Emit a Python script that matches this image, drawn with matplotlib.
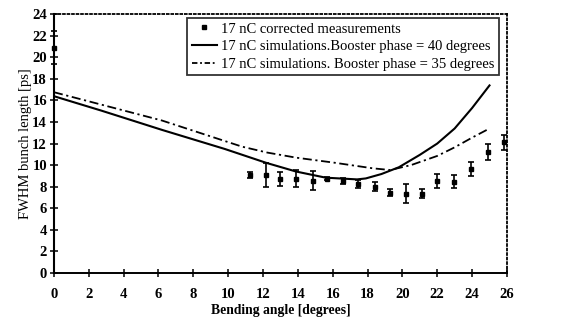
import matplotlib.pyplot as plt
from matplotlib.lines import Line2D
import numpy as np

# measured points (corrected measurements, 17 nC)
meas_x = [0.0, 11.25, 12.15, 13.0, 13.9, 14.85, 15.7, 16.6, 17.45, 18.4, 19.3, 20.2, 21.1, 22.0, 22.95, 23.95, 24.9, 25.85]
meas_y = [20.9, 9.1, 9.1, 8.7, 8.75, 8.55, 8.75, 8.5, 8.25, 8.0, 7.45, 7.35, 7.35, 8.5, 8.45, 9.65, 11.2, 12.1]
meas_err = [1.55, 0.3, 1.1, 0.65, 0.75, 0.9, 0.15, 0.3, 0.4, 0.45, 0.35, 0.85, 0.4, 0.65, 0.6, 0.65, 0.75, 0.7]

# simulation, booster phase 40 deg
sim40_x = [0, 2.7, 6.2, 9.8, 12.2, 13.9, 15.6, 17.4, 17.9, 18.8, 19.8, 21.0, 22.0, 23.0, 24.0, 25.0]
sim40_y = [16.4, 15.07, 13.27, 11.5, 10.2, 9.4, 8.83, 8.67, 8.76, 9.17, 9.8, 10.95, 12.0, 13.4, 15.3, 17.4]

# simulation, booster phase 35 deg
sim35_x = [0, 6.2, 10.8, 12.25, 13.9, 16.1, 18.3, 19.3, 20.5, 22.0, 23.0, 24.0, 25.0]
sim35_y = [16.77, 14.14, 11.71, 11.16, 10.69, 10.22, 9.7, 9.54, 10.0, 10.85, 11.65, 12.55, 13.4]

labels = ['17 nC corrected measurements',
          '17 nC simulations.Booster phase = 40 degrees',
          '17 nC simulations. Booster phase = 35 degrees']

xticks = np.arange(0, 27, 2)
yticks = np.arange(0, 25, 2)

plt.rcParams['font.family'] = ['Liberation Serif', 'DejaVu Serif']

fig = plt.figure(figsize=(5.62, 3.27), dpi=100)
ax = fig.add_axes([0.096, 0.166, 0.806, 0.790])

ax.errorbar(meas_x, meas_y, yerr=meas_err, fmt='s', color='black', ms=3.5,
            elinewidth=1.2, capsize=2.5, capthick=1.2, clip_on=False, zorder=3)
ax.plot(sim40_x, sim40_y, '-', color='black', lw=1.5)
ax.plot(sim35_x, sim35_y, color='black', lw=1.3, dashes=[5, 2, 1.2, 2])

ax.set_xlim(0, 26)
ax.set_ylim(0, 24)
ax.set_xticks(xticks)
ax.set_yticks(yticks)
ax.tick_params(direction='inout', length=6, width=1.1, labelsize=10.5)
for lbl in ax.get_xticklabels() + ax.get_yticklabels():
    lbl.set_fontweight('bold')
ax.tick_params(axis='x', pad=8)
ax.tick_params(axis='y', pad=2)

ax.spines['bottom'].set_linewidth(1.4)
ax.spines['left'].set_linestyle((0, (1.2, 1.0)))
ax.spines['left'].set_linewidth(1.5)
for side in ['top', 'right']:
    ax.spines[side].set_linestyle((0, (1, 1.5)))
    ax.spines[side].set_linewidth(1.3)

ax.set_xlabel('Bending angle [degrees]', fontsize=9.8, fontweight='bold', labelpad=2)
ax.set_ylabel('FWHM bunch length [ps]', fontsize=10.5, labelpad=0)

# legend handles (no data, style only)
handles = [Line2D([], [], ls='none', marker='s', ms=3, color='black'),
           Line2D([], [], ls='-', lw=1.5, color='black'),
           Line2D([], [], lw=1.3, color='black', dashes=[3, 1.5, 1, 1.5])]
leg = ax.legend(handles, labels, loc='upper right', bbox_to_anchor=(0.982, 0.986),
                fontsize=10.5, frameon=True, fancybox=False, edgecolor='black',
                handlelength=1.7, handletextpad=0.3, borderpad=0.3,
                labelspacing=0.3, borderaxespad=0)
leg.get_frame().set_linewidth(1.3)

fig.savefig('out.png', dpi=100)
